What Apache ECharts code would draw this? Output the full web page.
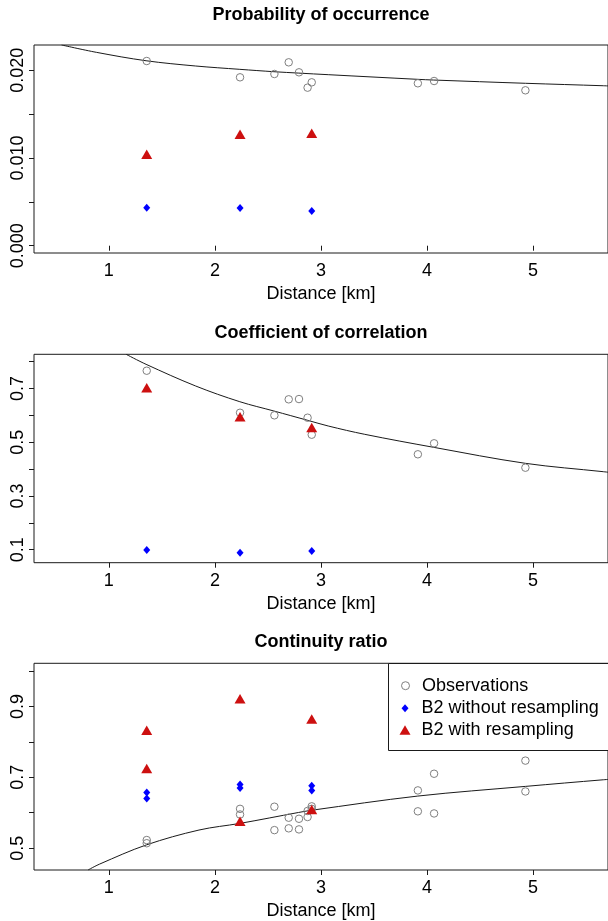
<!DOCTYPE html>
<html>
<head>
<meta charset="utf-8">
<script src="https://cdn.jsdelivr.net/npm/echarts@6/dist/echarts.min.js"></script>
<style>html,body{margin:0;padding:0;background:#fff;}#chart{width:608px;height:921px;}</style>
</head>
<body>
<div id="chart"></div>
<script>
// ---- data ----
const titles = ['Probability of occurrence', 'Coefficient of correlation', 'Continuity ratio'];
const xAxisName = 'Distance [km]';
const seriesNames = ['Observations', 'B2 without resampling', 'B2 with resampling'];

const distances = [1.357, 2.237, 2.561, 2.696, 2.793, 2.874, 2.913, 3.914, 4.067, 4.928];
const b2Distances = [1.357, 2.237, 2.913];

// Probability of occurrence
const probObs = [0.02106, 0.0192, 0.01958, 0.02091, 0.01977, 0.01802, 0.01863, 0.01852, 0.01878, 0.01772];
const probB2NoResamp = [0.00433, 0.0043, 0.00396];
const probB2Resamp = [0.01042, 0.0127, 0.01282];
const probCurveX = [0.554, 0.882, 1.351, 1.819, 2.235, 2.556, 2.791, 3.069, 3.913, 4.063, 4.928, 5.663, 5.71];
const probCurveY = [0.02289, 0.02205, 0.02109, 0.02049, 0.02011, 0.01984, 0.01968, 0.0195, 0.01897, 0.01889, 0.01852, 0.01824, 0.01822];

// Coefficient of correlation
const corrObs = [0.7665, 0.610, 0.6004, 0.660, 0.661, 0.5915, 0.5282, 0.4553, 0.4962, 0.4054];
const corrB2NoResamp = [0.099, 0.0889, 0.0952];
const corrB2Resamp = [0.7032, 0.5952, 0.555];
const corrCurveX = [1.163, 1.351, 1.819, 2.235, 2.556, 2.875, 3.069, 3.413, 4.063, 4.928, 5.663, 5.71];
const corrCurveY = [0.8276, 0.7903, 0.7095, 0.6511, 0.6165, 0.5818, 0.5606, 0.5297, 0.4813, 0.4217, 0.3905, 0.3885];

// Continuity ratio (two values per site)
const contObsA = [0.523, 0.611, 0.617, 0.586, 0.583, 0.605, 0.618, 0.663, 0.710, 0.747];
const contObsB = [0.514, 0.595, 0.551, 0.556, 0.553, 0.588, 0.611, 0.604, 0.598, 0.660];
const contB2NoResampA = [0.657, 0.680, 0.676];
const contB2NoResampB = [0.640, 0.670, 0.663];
const contB2ResampA = [0.833, 0.9215, 0.8645];
const contB2ResampB = [0.725, 0.576, 0.609];
const contCurveX = [0.804, 0.913, 1.353, 1.850, 2.237, 2.788, 2.912, 3.913, 4.928, 5.663, 5.71];
const contCurveY = [0.4385, 0.4552, 0.5092, 0.5512, 0.570, 0.6007, 0.607, 0.647, 0.6743, 0.693, 0.694];

// ticks and labels
const xTicks = [1, 2, 3, 4, 5];
const probTicks = [0, 0.005, 0.01, 0.015, 0.02];
const probLabels = [0, 0.01, 0.02];
const corrTicks = [0.1, 0.2, 0.3, 0.4, 0.5, 0.6, 0.7, 0.8];
const corrLabels = [0.1, 0.3, 0.5, 0.7];
const contTicks = [0.5, 0.6, 0.7, 0.8, 0.9, 1.0];
const contLabels = [0.5, 0.7, 0.9];

// ---- layout ----
const FONT = 'Liberation Sans, Arial, Helvetica, sans-serif';
const INK = '#1a1a1a';
const gridTops = [45, 354.3, 663.3];
const gridHeights = [208, 208.4, 208.7];
const gridLeft = 34, gridWidth = 577.4;
const xMin = 0.294, xMax = 5.707;
const yRanges = [[-0.000832, 0.022885], [0.0517, 0.8276], [0.4385, 1.0215]];
const yTickSets = [probTicks, corrTicks, contTicks];
const yLabelSets = [probLabels, corrLabels, contLabels];
const yDigits = [3, 1, 1];
const titleCenters = [15, 332.7, 641.7];

const zip = (xs, ys) => xs.map((x, i) => [x, ys[i]]);

const grids = [], xAxes = [], yAxes = [], series = [], titleOpts = [];
for (let i = 0; i < 3; i++) {
  grids.push({left: gridLeft, top: gridTops[i], width: gridWidth, height: gridHeights[i],
    show: true, borderColor: INK, borderWidth: 1, backgroundColor: 'transparent', containLabel: false});
  xAxes.push({type: 'value', gridIndex: i, min: xMin, max: xMax,
    axisLine: {show: false}, splitLine: {show: false},
    axisTick: {show: true, length: 5, customValues: xTicks, lineStyle: {color: INK, width: 1}},
    axisLabel: {customValues: xTicks, margin: 9, color: '#000', fontSize: 18, fontFamily: FONT},
    name: xAxisName, nameLocation: 'middle', nameGap: 32,
    nameTextStyle: {color: '#000', fontSize: 18, fontFamily: FONT}});
  const d = yDigits[i];
  yAxes.push({type: 'value', gridIndex: i, min: yRanges[i][0], max: yRanges[i][1],
    axisLine: {show: false}, splitLine: {show: false},
    axisTick: {show: true, length: 5, customValues: yTickSets[i], lineStyle: {color: INK, width: 1}},
    axisLabel: {customValues: yLabelSets[i], rotate: 90, margin: 7, color: '#000', fontSize: 18, fontFamily: FONT,
      formatter: v => Number(v).toFixed(d)}});
  titleOpts.push({text: titles[i], left: 321, top: titleCenters[i] - 9, textAlign: 'center', padding: 0,
    textStyle: {fontSize: 18, fontWeight: 'bold', color: '#000', fontFamily: FONT}});
}

const obsStyle = {color: 'rgba(0,0,0,0)', borderColor: '#7f7f7f', borderWidth: 1, opacity: 1};
const noResStyle = {color: '#0000ff', opacity: 1};
const resStyle = {color: '#cd1010', opacity: 1};

function addPanel(i, curveX, curveY, obs, noRes, res) {
  series.push({type: 'line', name: 'fit', xAxisIndex: i, yAxisIndex: i, data: zip(curveX, curveY),
    smooth: 0.35, showSymbol: false, symbol: 'none', silent: true, z: 1,
    lineStyle: {color: INK, width: 1}});
  series.push({type: 'scatter', name: seriesNames[0], xAxisIndex: i, yAxisIndex: i, data: obs,
    symbol: 'circle', symbolSize: 7.5, itemStyle: obsStyle, z: 2});
  series.push({type: 'scatter', name: seriesNames[1], xAxisIndex: i, yAxisIndex: i, data: noRes,
    symbol: 'diamond', symbolSize: [7, 8], itemStyle: noResStyle, z: 3});
  series.push({type: 'scatter', name: seriesNames[2], xAxisIndex: i, yAxisIndex: i, data: res,
    symbol: 'triangle', symbolSize: [11, 9.5], itemStyle: resStyle, z: 4});
}
addPanel(0, probCurveX, probCurveY, zip(distances, probObs), zip(b2Distances, probB2NoResamp), zip(b2Distances, probB2Resamp));
addPanel(1, corrCurveX, corrCurveY, zip(distances, corrObs), zip(b2Distances, corrB2NoResamp), zip(b2Distances, corrB2Resamp));
addPanel(2, contCurveX, contCurveY,
  zip(distances, contObsA).concat(zip(distances, contObsB)),
  zip(b2Distances, contB2NoResampA).concat(zip(b2Distances, contB2NoResampB)),
  zip(b2Distances, contB2ResampA).concat(zip(b2Distances, contB2ResampB)));

const legendRows = [685.7, 708.3, 730];
const legendIcons = [
  {icon: 'circle', w: 8, h: 8, itemStyle: {color: '#fff', borderColor: '#7f7f7f', borderWidth: 1, opacity: 1}},
  {icon: 'diamond', w: 7, h: 8, itemStyle: {color: '#0000ff', opacity: 1}},
  {icon: 'triangle', w: 11, h: 9.5, itemStyle: {color: '#cd1010', opacity: 1}}
];
const legendIconX = 405, legendTextX = 421.6;
const legends = legendIcons.map((li, k) => ({
  data: [{name: seriesNames[k], icon: li.icon, itemStyle: li.itemStyle}],
  left: legendIconX - li.w / 2, top: legendRows[k] - 9, padding: 0,
  itemWidth: li.w, itemHeight: li.h, selectedMode: false,
  textStyle: {fontSize: 18, color: '#000', fontFamily: FONT,
    padding: [0, 0, 0, legendTextX - (legendIconX + li.w / 2 + 5)]}
}));

const chart = echarts.init(document.getElementById('chart'), null, {renderer: 'canvas'});
chart.setOption({
  animation: false,
  backgroundColor: '#fff',
  title: titleOpts,
  grid: grids,
  xAxis: xAxes,
  yAxis: yAxes,
  legend: legends,
  graphic: [{type: 'rect', z: 0, shape: {x: 388.5, y: 663.5, width: 240, height: 87},
    style: {fill: '#fff', stroke: INK, lineWidth: 1}}],
  series: series
});
</script>
</body>
</html>
